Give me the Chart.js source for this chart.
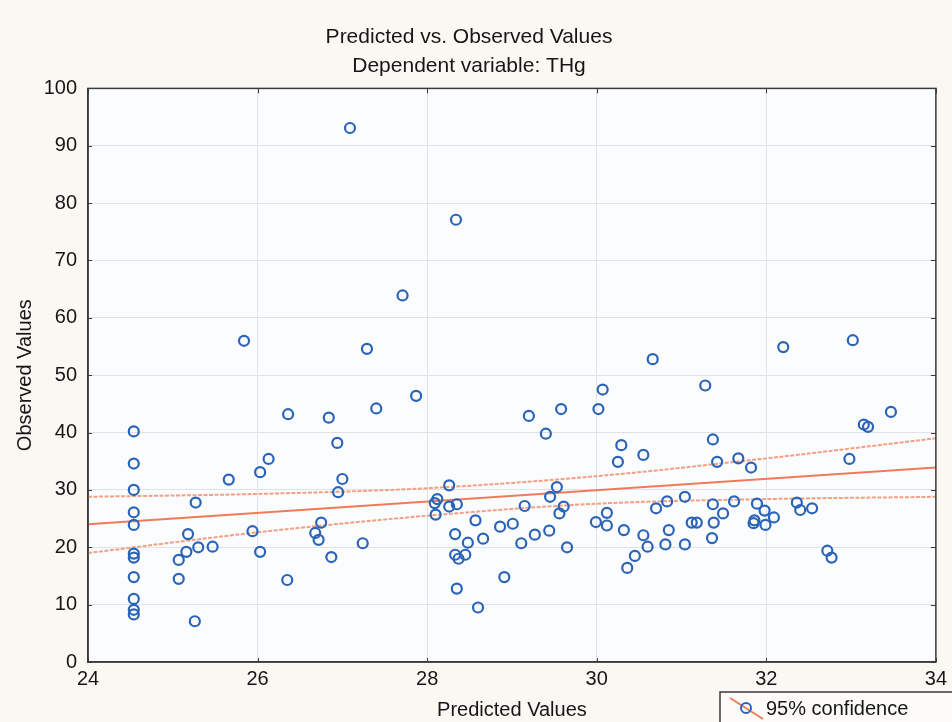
<!DOCTYPE html>
<html>
<head>
<meta charset="utf-8">
<script src="https://cdn.jsdelivr.net/npm/chart.js@4/dist/chart.umd.min.js"></script>
<style>
  html, body { margin: 0; padding: 0; background: #fbf8f4; }
  #wrap { width: 952px; height: 722px; }
</style>
</head>
<body>
<div id="wrap"><canvas id="c" width="952" height="722"></canvas></div>
<script>
// ---- data ----
const predicted = [
  24.54, 24.54, 24.54, 24.54, 24.54, 24.54, 24.54, 24.54, 24.54, 24.54, 24.54,
  25.07, 25.07, 25.16, 25.18, 25.27, 25.30, 25.26, 25.47, 25.66, 25.94, 26.03,
  26.03, 26.13, 26.35, 26.36, 25.84, 26.84, 26.94, 27.00, 26.95, 26.75, 26.68,
  26.72, 26.87, 27.24, 27.40, 27.87, 27.09, 28.34, 27.71, 27.29, 28.09, 28.12,
  28.10, 28.26, 28.26, 28.35, 28.33, 28.57, 28.48, 28.66, 28.33, 28.37, 28.45,
  28.35, 28.60, 28.86, 28.91, 29.01, 29.11, 29.15, 29.27, 29.20, 29.40, 29.44,
  29.45, 29.53, 29.58, 29.61, 29.56, 29.65, 29.99, 30.02, 30.07, 30.12, 30.12,
  30.29, 30.25, 30.32, 30.36, 30.45, 30.55, 30.60, 30.55, 30.66, 30.70, 30.83,
  30.85, 30.81, 31.04, 31.04, 31.12, 31.18, 31.28, 31.37, 31.42, 31.37, 31.38,
  31.36, 31.49, 31.62, 31.67, 31.82, 31.89, 31.86, 31.85, 31.98, 31.99, 32.09,
  32.20, 32.36, 32.40, 32.54, 32.72, 32.77, 32.98, 33.02, 33.15, 33.20, 33.47
];
const observed = [
  40.2, 34.6, 30.0, 26.1, 23.9, 18.9, 18.2, 14.8, 11.0, 9.1, 8.3,
  17.8, 14.5, 19.2, 22.3, 27.8, 20.0, 7.1, 20.1, 31.8, 22.8, 19.2,
  33.1, 35.4, 14.3, 43.2, 56.0, 42.6, 38.2, 31.9, 29.6, 24.3, 22.5,
  21.3, 18.3, 20.7, 44.2, 46.4, 93.1, 77.1, 63.9, 54.6, 27.7, 28.4,
  25.7, 30.8, 27.1, 27.5, 22.3, 24.7, 20.8, 21.5, 18.7, 18.0, 18.7,
  12.8, 9.5, 23.6, 14.8, 24.1, 20.7, 27.2, 22.2, 42.9, 39.8, 22.9,
  28.8, 30.5, 44.1, 27.1, 25.9, 20.0, 24.4, 44.1, 47.5, 26.0, 23.8,
  37.8, 34.9, 23.0, 16.4, 18.5, 22.1, 20.1, 36.1, 52.8, 26.8, 28.0,
  23.0, 20.5, 28.8, 20.5, 24.3, 24.3, 48.2, 38.8, 34.9, 27.5, 24.3,
  21.6, 25.9, 28.0, 35.5, 33.9, 27.6, 24.7, 24.2, 26.4, 23.9, 25.2,
  54.9, 27.8, 26.5, 26.8, 19.4, 18.2, 35.4, 56.1, 41.4, 41.0, 43.6
];
const fitX = [24, 34];
const fitY = [24.0, 33.9];
const ciX = [24, 26, 28, 30, 32, 34];
const ciUpper = [28.8, 29.3, 30.3, 32.4, 35.5, 39.0];
const ciLower = [19.0, 22.6, 25.5, 27.6, 28.4, 28.8];
const xTicks = [24, 26, 28, 30, 32, 34];
const yTicks = [0, 10, 20, 30, 40, 50, 60, 70, 80, 90, 100];

const titleText = 'Predicted vs. Observed Values';
const subtitleText = 'Dependent variable: THg';
const xTitle = 'Predicted Values';
const yTitle = 'Observed Values';
const legendText = '95% confidence';

// ---- styling ----
const FONT = "'Liberation Sans', Arial, sans-serif";
const TXT = '#161616';
const PT_COLOR = '#2a63b8';
const FIT_COLOR = '#ef7b5a';
const CI_COLOR = '#f2a083';

const bgPlugin = {
  id: 'bg',
  beforeDraw(chart) {
    const { ctx, chartArea: a } = chart;
    ctx.save();
    ctx.fillStyle = '#fbf8f4';
    ctx.fillRect(0, 0, chart.width, chart.height);
    ctx.fillStyle = '#fbfcfe';
    ctx.fillRect(a.left, a.top, a.right - a.left, a.bottom - a.top);
    ctx.restore();
  }
};

const framePlugin = {
  id: 'frame',
  afterDraw(chart) {
    const { ctx, chartArea: a, scales } = chart;
    ctx.save();
    ctx.strokeStyle = '#3a3a3a';
    ctx.lineWidth = 1.5;
    ctx.strokeRect(a.left, a.top, a.right - a.left, a.bottom - a.top);
    ctx.lineWidth = 1;
    ctx.beginPath();
    xTicks.forEach(v => {
      const px = Math.round(scales.x.getPixelForValue(v)) + 0.5;
      ctx.moveTo(px, a.top); ctx.lineTo(px, a.top + 5);
      ctx.moveTo(px, a.bottom); ctx.lineTo(px, a.bottom - 4);
    });
    yTicks.forEach(v => {
      const py = Math.round(scales.y.getPixelForValue(v)) + 0.5;
      ctx.moveTo(a.right, py); ctx.lineTo(a.right - 5, py);
      ctx.moveTo(a.left, py); ctx.lineTo(a.left + 4, py);
    });
    ctx.stroke();

    // legend box (bottom right, partly outside the canvas)
    const lx = 720, ly = 692;
    ctx.fillStyle = '#fcfbf8';
    ctx.fillRect(lx, ly, 260, 60);
    ctx.strokeStyle = '#3a3a3a';
    ctx.lineWidth = 1.5;
    ctx.strokeRect(lx, ly, 260, 60);
    ctx.strokeStyle = FIT_COLOR;
    ctx.lineWidth = 2;
    ctx.beginPath();
    ctx.moveTo(730, 698); ctx.lineTo(763, 719);
    ctx.stroke();
    ctx.strokeStyle = PT_COLOR;
    ctx.lineWidth = 2;
    ctx.beginPath();
    ctx.arc(746, 708, 5, 0, Math.PI * 2);
    ctx.stroke();
    ctx.fillStyle = TXT;
    ctx.font = '20px ' + FONT;
    ctx.textAlign = 'left';
    ctx.textBaseline = 'middle';
    ctx.fillText(legendText, 766, 709);
    ctx.restore();
  }
};

const pts = predicted.map((x, i) => ({ x: x, y: observed[i] }));
const fitPts = fitX.map((x, i) => ({ x: x, y: fitY[i] }));
const upPts = ciX.map((x, i) => ({ x: x, y: ciUpper[i] }));
const loPts = ciX.map((x, i) => ({ x: x, y: ciLower[i] }));

new Chart(document.getElementById('c'), {
  type: 'scatter',
  data: {
    datasets: [
      {
        label: 'Observed',
        data: pts,
        showLine: false,
        pointStyle: 'circle',
        pointRadius: 5,
        pointBorderWidth: 2.2,
        borderColor: PT_COLOR,
        backgroundColor: 'rgba(0,0,0,0)',
        order: 0
      },
      {
        label: 'Fit',
        data: fitPts,
        showLine: true,
        borderColor: FIT_COLOR,
        borderWidth: 2,
        pointRadius: 0,
        order: 1
      },
      {
        label: 'Upper 95%',
        data: upPts,
        showLine: true,
        borderColor: CI_COLOR,
        borderWidth: 2,
        borderDash: [4, 1.5],
        cubicInterpolationMode: 'monotone',
        pointRadius: 0,
        order: 2
      },
      {
        label: 'Lower 95%',
        data: loPts,
        showLine: true,
        borderColor: CI_COLOR,
        borderWidth: 2,
        borderDash: [4, 1.5],
        cubicInterpolationMode: 'monotone',
        pointRadius: 0,
        order: 2
      }
    ]
  },
  options: {
    responsive: false,
    animation: false,
    devicePixelRatio: 1,
    layout: { padding: { left: 0, right: 14, top: 0, bottom: 0 } },
    plugins: {
      legend: { display: false },
      tooltip: { enabled: false },
      title: {
        display: true,
        text: titleText,
        color: TXT,
        font: { family: FONT, size: 21, weight: 'normal', lineHeight: 1.2 },
        padding: { top: 25, bottom: 0 }
      },
      subtitle: {
        display: true,
        text: subtitleText,
        color: TXT,
        font: { family: FONT, size: 21, weight: 'normal', lineHeight: 1.2 },
        padding: { top: 3, bottom: 10 }
      }
    },
    scales: {
      x: {
        type: 'linear',
        position: 'bottom',
        min: 24,
        max: 34,
        afterBuildTicks: s => { s.ticks = xTicks.map(v => ({ value: v })); },
        afterFit: s => { s.height = 60; },
        ticks: { color: TXT, font: { family: FONT, size: 20 }, padding: 5, maxRotation: 0, autoSkip: false },
        grid: { color: '#dfe2e6', lineWidth: 1, drawTicks: false },
        border: { display: true, color: '#3a3a3a', width: 1.5 },
        title: {
          display: true,
          text: xTitle,
          color: TXT,
          font: { family: FONT, size: 20, lineHeight: 1.2 },
          padding: { top: 0, bottom: 0 }
        }
      },
      y: {
        type: 'linear',
        position: 'left',
        min: 0,
        max: 100,
        afterBuildTicks: s => { s.ticks = yTicks.map(v => ({ value: v })); },
        afterFit: s => { s.width = 88; },
        ticks: { color: TXT, font: { family: FONT, size: 20 }, padding: 11, autoSkip: false },
        grid: { color: '#dfe2e6', lineWidth: 1, drawTicks: false },
        border: { display: true, color: '#3a3a3a', width: 1.5 },
        title: {
          display: true,
          text: yTitle,
          color: TXT,
          font: { family: FONT, size: 20, lineHeight: 1.2 },
          padding: { top: 13, bottom: 0 }
        }
      }
    }
  },
  plugins: [bgPlugin, framePlugin]
});
</script>
</body>
</html>
